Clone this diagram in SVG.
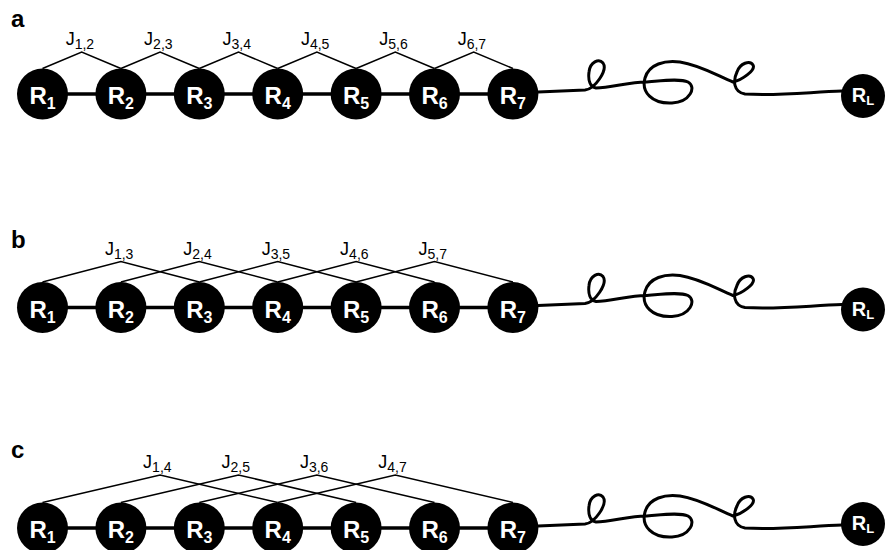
<svg xmlns="http://www.w3.org/2000/svg" width="885" height="550" viewBox="0 0 885 550">
<defs>
<style>
.bg{fill:#fff}
.pl{font-family:"Liberation Sans",Arial,sans-serif;font-weight:bold;font-size:24px;fill:#000}
.jl{font-family:"Liberation Sans",Arial,sans-serif;font-size:18px;fill:#000}
.js{font-size:14px}
.jc{fill:none;stroke:#000;stroke-width:1.5;stroke-linejoin:miter}
.bb{fill:none;stroke:#000;stroke-width:3.5}
.cv{fill:none;stroke:#000;stroke-width:3;stroke-linecap:round;stroke-linejoin:round}
.nd{fill:#000}
.nt{font-family:"Liberation Sans",Arial,sans-serif;font-weight:bold;font-size:24px;fill:#fff;text-anchor:middle}
.ns{font-size:16px}
.lt{font-family:"Liberation Sans",Arial,sans-serif;font-weight:bold;font-size:20px;fill:#fff;text-anchor:middle}
.ls{font-size:13px}
</style>
<path id="coil" d="M538 92 L585 90 C595 89 608 70 603 63 C599 58 590 62 589 72 C588 80 590 87 596 88 C610 88 630 82 645 82 C660 81 680 78 688 82 C697 87 690 102 672 103 C652 104 641 92 645 78 C649 64 665 60 680 62 C700 65 718 76 733 82 C742 80 756 70 753 65 C750 60 740 63 737 72 C733 80 733 92 745 94 C780 96 810 92 842 91"/>
</defs>
<rect class="bg" x="0" y="0" width="885" height="550"/>

<g id="panel-labels">
<text class="pl" x="11" y="27">a</text>
<text class="pl" x="11" y="248">b</text>
<text class="pl" x="11" y="458">c</text>
</g>

<g id="connectors">
<!-- row a -->
<line class="bb" x1="42.5" y1="94" x2="512.9" y2="94"/>
<use href="#coil" class="cv"/>
<path class="jc" d="M42.5 68.5 L81.7 52 L120.9 68.5"/>
<path class="jc" d="M120.9 68.5 L160.1 52 L199.3 68.5"/>
<path class="jc" d="M199.3 68.5 L238.5 52 L277.7 68.5"/>
<path class="jc" d="M277.7 68.5 L316.9 52 L356.1 68.5"/>
<path class="jc" d="M356.1 68.5 L395.3 52 L434.5 68.5"/>
<path class="jc" d="M434.5 68.5 L473.7 52 L512.9 68.5"/>
<!-- row b -->
<line class="bb" x1="42.5" y1="307.5" x2="512.9" y2="307.5"/>
<use href="#coil" class="cv" transform="translate(0,213.5)"/>
<path class="jc" d="M42.5 282 L120.9 261.5 L199.3 282"/>
<path class="jc" d="M120.9 282 L199.3 261.5 L277.7 282"/>
<path class="jc" d="M199.3 282 L277.7 261.5 L356.1 282"/>
<path class="jc" d="M277.7 282 L356.1 261.5 L434.5 282"/>
<path class="jc" d="M356.1 282 L434.5 261.5 L512.9 282"/>
<!-- row c -->
<line class="bb" x1="42.5" y1="528" x2="512.9" y2="528"/>
<use href="#coil" class="cv" transform="translate(0,434)"/>
<path class="jc" d="M42.5 502.5 L160.1 475 L277.7 502.5"/>
<path class="jc" d="M120.9 502.5 L238.5 475 L356.1 502.5"/>
<path class="jc" d="M199.3 502.5 L316.9 475 L434.5 502.5"/>
<path class="jc" d="M277.7 502.5 L395.3 475 L512.9 502.5"/>
</g>

<g id="coupling-labels">
<text class="jl" x="65.7" y="45">J<tspan class="js" dy="4">1,2</tspan></text>
<text class="jl" x="144.1" y="45">J<tspan class="js" dy="4">2,3</tspan></text>
<text class="jl" x="222.5" y="45">J<tspan class="js" dy="4">3,4</tspan></text>
<text class="jl" x="300.9" y="45">J<tspan class="js" dy="4">4,5</tspan></text>
<text class="jl" x="379.3" y="45">J<tspan class="js" dy="4">5,6</tspan></text>
<text class="jl" x="457.7" y="45">J<tspan class="js" dy="4">6,7</tspan></text>
<text class="jl" x="104.9" y="254.5">J<tspan class="js" dy="4">1,3</tspan></text>
<text class="jl" x="183.3" y="254.5">J<tspan class="js" dy="4">2,4</tspan></text>
<text class="jl" x="261.7" y="254.5">J<tspan class="js" dy="4">3,5</tspan></text>
<text class="jl" x="340.1" y="254.5">J<tspan class="js" dy="4">4,6</tspan></text>
<text class="jl" x="418.5" y="254.5">J<tspan class="js" dy="4">5,7</tspan></text>
<text class="jl" x="143.1" y="468">J<tspan class="js" dy="4">1,4</tspan></text>
<text class="jl" x="221.5" y="468">J<tspan class="js" dy="4">2,5</tspan></text>
<text class="jl" x="299.9" y="468">J<tspan class="js" dy="4">3,6</tspan></text>
<text class="jl" x="378.3" y="468">J<tspan class="js" dy="4">4,7</tspan></text>
</g>

<!-- row a nodes -->
<g id="a-R1"><circle class="nd" cx="42.5" cy="94" r="25.5"/><text class="nt" x="42.5" y="104">R<tspan class="ns" dy="5">1</tspan></text></g>
<g id="a-R2"><circle class="nd" cx="120.9" cy="94" r="25.5"/><text class="nt" x="120.9" y="104">R<tspan class="ns" dy="5">2</tspan></text></g>
<g id="a-R3"><circle class="nd" cx="199.3" cy="94" r="25.5"/><text class="nt" x="199.3" y="104">R<tspan class="ns" dy="5">3</tspan></text></g>
<g id="a-R4"><circle class="nd" cx="277.7" cy="94" r="25.5"/><text class="nt" x="277.7" y="104">R<tspan class="ns" dy="5">4</tspan></text></g>
<g id="a-R5"><circle class="nd" cx="356.1" cy="94" r="25.5"/><text class="nt" x="356.1" y="104">R<tspan class="ns" dy="5">5</tspan></text></g>
<g id="a-R6"><circle class="nd" cx="434.5" cy="94" r="25.5"/><text class="nt" x="434.5" y="104">R<tspan class="ns" dy="5">6</tspan></text></g>
<g id="a-R7"><circle class="nd" cx="512.9" cy="94" r="25.5"/><text class="nt" x="512.9" y="104">R<tspan class="ns" dy="5">7</tspan></text></g>
<g id="a-RL"><circle class="nd" cx="863" cy="96" r="22"/><text class="lt" x="863" y="102">R<tspan class="ls" dy="3">L</tspan></text></g>

<!-- row b nodes -->
<g id="b-R1"><circle class="nd" cx="42.5" cy="307.5" r="25.5"/><text class="nt" x="42.5" y="317.5">R<tspan class="ns" dy="5">1</tspan></text></g>
<g id="b-R2"><circle class="nd" cx="120.9" cy="307.5" r="25.5"/><text class="nt" x="120.9" y="317.5">R<tspan class="ns" dy="5">2</tspan></text></g>
<g id="b-R3"><circle class="nd" cx="199.3" cy="307.5" r="25.5"/><text class="nt" x="199.3" y="317.5">R<tspan class="ns" dy="5">3</tspan></text></g>
<g id="b-R4"><circle class="nd" cx="277.7" cy="307.5" r="25.5"/><text class="nt" x="277.7" y="317.5">R<tspan class="ns" dy="5">4</tspan></text></g>
<g id="b-R5"><circle class="nd" cx="356.1" cy="307.5" r="25.5"/><text class="nt" x="356.1" y="317.5">R<tspan class="ns" dy="5">5</tspan></text></g>
<g id="b-R6"><circle class="nd" cx="434.5" cy="307.5" r="25.5"/><text class="nt" x="434.5" y="317.5">R<tspan class="ns" dy="5">6</tspan></text></g>
<g id="b-R7"><circle class="nd" cx="512.9" cy="307.5" r="25.5"/><text class="nt" x="512.9" y="317.5">R<tspan class="ns" dy="5">7</tspan></text></g>
<g id="b-RL"><circle class="nd" cx="863" cy="309.5" r="22"/><text class="lt" x="863" y="315.5">R<tspan class="ls" dy="3">L</tspan></text></g>

<!-- row c nodes -->
<g id="c-R1"><circle class="nd" cx="42.5" cy="528" r="25.5"/><text class="nt" x="42.5" y="538">R<tspan class="ns" dy="5">1</tspan></text></g>
<g id="c-R2"><circle class="nd" cx="120.9" cy="528" r="25.5"/><text class="nt" x="120.9" y="538">R<tspan class="ns" dy="5">2</tspan></text></g>
<g id="c-R3"><circle class="nd" cx="199.3" cy="528" r="25.5"/><text class="nt" x="199.3" y="538">R<tspan class="ns" dy="5">3</tspan></text></g>
<g id="c-R4"><circle class="nd" cx="277.7" cy="528" r="25.5"/><text class="nt" x="277.7" y="538">R<tspan class="ns" dy="5">4</tspan></text></g>
<g id="c-R5"><circle class="nd" cx="356.1" cy="528" r="25.5"/><text class="nt" x="356.1" y="538">R<tspan class="ns" dy="5">5</tspan></text></g>
<g id="c-R6"><circle class="nd" cx="434.5" cy="528" r="25.5"/><text class="nt" x="434.5" y="538">R<tspan class="ns" dy="5">6</tspan></text></g>
<g id="c-R7"><circle class="nd" cx="512.9" cy="528" r="25.5"/><text class="nt" x="512.9" y="538">R<tspan class="ns" dy="5">7</tspan></text></g>
<g id="c-RL"><circle class="nd" cx="863" cy="524" r="22"/><text class="lt" x="863" y="530">R<tspan class="ls" dy="3">L</tspan></text></g>
</svg>
